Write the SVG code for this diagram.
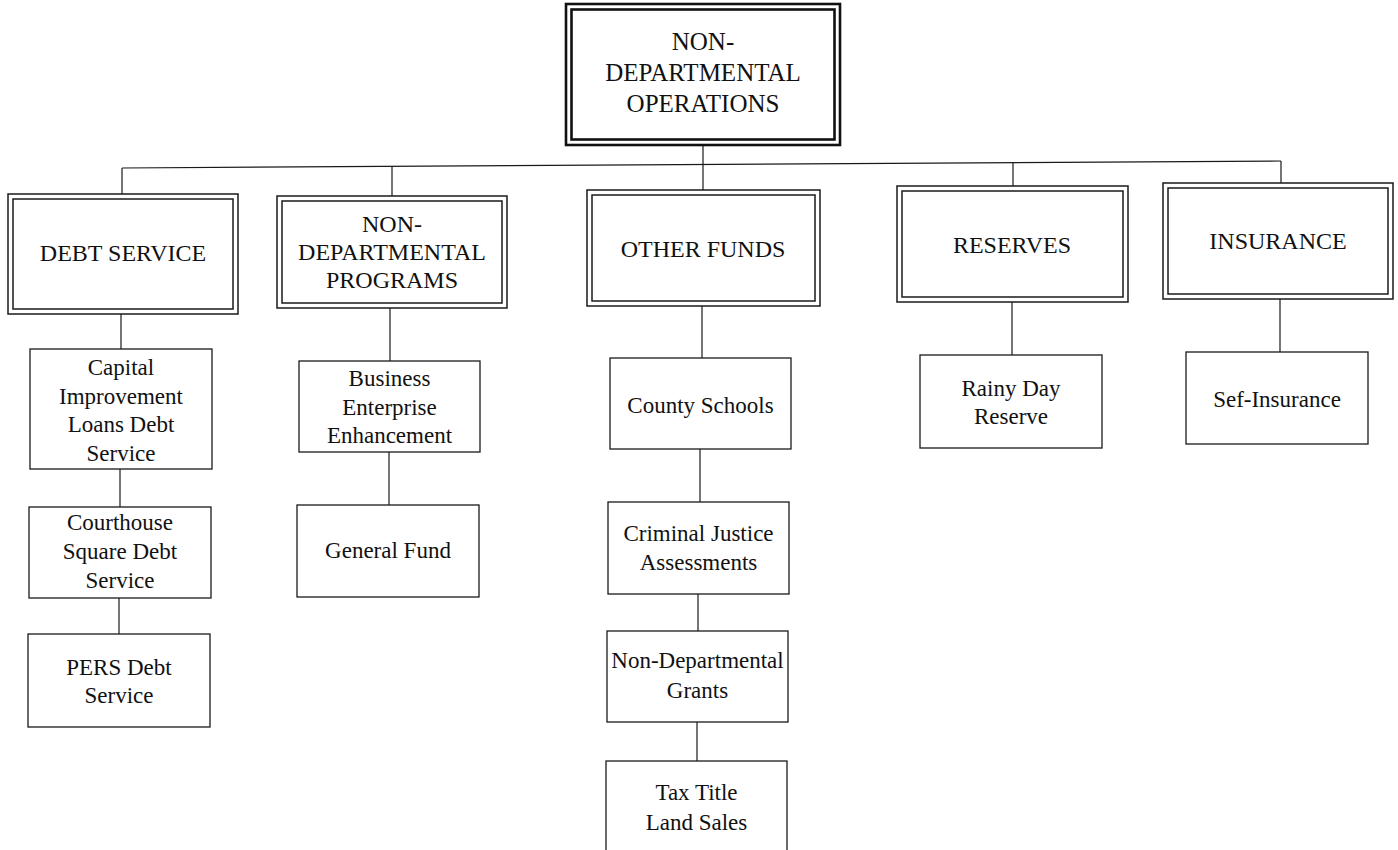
<svg xmlns="http://www.w3.org/2000/svg" width="1398" height="850" viewBox="0 0 1398 850">
  <style>
    .bg { fill: #ffffff; }
    .frame { fill: #ffffff; stroke: #1a1a1a; stroke-width: 1.5; }
    .frame-top { fill: #ffffff; stroke: #111111; stroke-width: 2.6; }
    .box { fill: #ffffff; stroke: #1a1a1a; stroke-width: 1.3; }
    .link { fill: none; stroke: #1a1a1a; stroke-width: 1.2; }
    text { font-family: "Liberation Serif", "Times New Roman", serif; fill: #111111; text-anchor: middle; }
    .h0 { font-size: 25px; }
    .h1 { font-size: 24px; }
    .t { font-size: 23px; }
  </style>

  <rect class="bg" x="0" y="0" width="1398" height="850"/>

  <!-- connectors -->
  <g id="connectors">
    <line class="link" x1="703" y1="145" x2="703" y2="164.5"/>
    <line class="link" x1="122" y1="168" x2="1281" y2="161"/>
    <line class="link" x1="122" y1="168" x2="122" y2="194"/>
    <line class="link" x1="392" y1="166.4" x2="392" y2="196"/>
    <line class="link" x1="703" y1="164.5" x2="703" y2="190"/>
    <line class="link" x1="1013" y1="162.6" x2="1013" y2="186"/>
    <line class="link" x1="1281" y1="161" x2="1281" y2="183"/>

    <line class="link" x1="121" y1="314" x2="121" y2="349"/>
    <line class="link" x1="120" y1="469" x2="120" y2="507"/>
    <line class="link" x1="119" y1="598" x2="119" y2="634"/>

    <line class="link" x1="390" y1="308" x2="390" y2="361"/>
    <line class="link" x1="389" y1="452" x2="389" y2="505"/>

    <line class="link" x1="702" y1="306" x2="702" y2="358"/>
    <line class="link" x1="700" y1="449" x2="700" y2="502"/>
    <line class="link" x1="698" y1="594" x2="698" y2="631"/>
    <line class="link" x1="697" y1="722" x2="697" y2="761"/>

    <line class="link" x1="1012" y1="302" x2="1012" y2="355"/>
    <line class="link" x1="1280" y1="299" x2="1280" y2="352"/>
  </g>

  <!-- root -->
  <g id="non-departmental-operations">
    <rect class="frame-top" x="566" y="4" width="274" height="141"/>
    <rect class="frame-top" x="571.5" y="9.5" width="263" height="130"/>
    <text class="h0" x="703" y="50">NON-</text>
    <text class="h0" x="703" y="81">DEPARTMENTAL</text>
    <text class="h0" x="703" y="112">OPERATIONS</text>
  </g>

  <!-- second level -->
  <g id="debt-service">
    <rect class="frame" x="8" y="194" width="230" height="120"/>
    <rect class="frame" x="13" y="199" width="220" height="110"/>
    <text class="h1" x="123" y="261">DEBT SERVICE</text>
  </g>

  <g id="non-departmental-programs">
    <rect class="frame" x="277" y="196" width="230" height="112"/>
    <rect class="frame" x="282" y="201" width="220" height="102"/>
    <text class="h1" x="392" y="232">NON-</text>
    <text class="h1" x="392" y="260">DEPARTMENTAL</text>
    <text class="h1" x="392" y="288">PROGRAMS</text>
  </g>

  <g id="other-funds">
    <rect class="frame" x="587" y="190" width="233" height="116"/>
    <rect class="frame" x="592" y="195" width="223" height="106"/>
    <text class="h1" x="703" y="257">OTHER FUNDS</text>
  </g>

  <g id="reserves">
    <rect class="frame" x="897" y="186" width="231" height="116"/>
    <rect class="frame" x="902" y="191" width="221" height="106"/>
    <text class="h1" x="1012" y="253">RESERVES</text>
  </g>

  <g id="insurance">
    <rect class="frame" x="1163" y="183" width="230" height="116"/>
    <rect class="frame" x="1168" y="188" width="220" height="106"/>
    <text class="h1" x="1278" y="249">INSURANCE</text>
  </g>

  <!-- debt service items -->
  <g id="capital-improvement-loans">
    <rect class="box" x="30" y="349" width="182" height="120"/>
    <text class="t" x="121" y="375">Capital</text>
    <text class="t" x="121" y="404">Improvement</text>
    <text class="t" x="121" y="432">Loans Debt</text>
    <text class="t" x="121" y="461">Service</text>
  </g>

  <g id="courthouse-square">
    <rect class="box" x="29" y="507" width="182" height="91"/>
    <text class="t" x="120" y="530">Courthouse</text>
    <text class="t" x="120" y="559">Square Debt</text>
    <text class="t" x="120" y="588">Service</text>
  </g>

  <g id="pers-debt-service">
    <rect class="box" x="28" y="634" width="182" height="93"/>
    <text class="t" x="119" y="675">PERS Debt</text>
    <text class="t" x="119" y="703">Service</text>
  </g>

  <!-- programs items -->
  <g id="business-enterprise">
    <rect class="box" x="299" y="361" width="181" height="91"/>
    <text class="t" x="389.5" y="386">Business</text>
    <text class="t" x="389.5" y="415">Enterprise</text>
    <text class="t" x="389.5" y="443">Enhancement</text>
  </g>

  <g id="general-fund">
    <rect class="box" x="297" y="505" width="182" height="92"/>
    <text class="t" x="388" y="558">General Fund</text>
  </g>

  <!-- other funds items -->
  <g id="county-schools">
    <rect class="box" x="610" y="358" width="181" height="91"/>
    <text class="t" x="700.5" y="413">County Schools</text>
  </g>

  <g id="criminal-justice">
    <rect class="box" x="608" y="502" width="181" height="92"/>
    <text class="t" x="698.5" y="541">Criminal Justice</text>
    <text class="t" x="698.5" y="570">Assessments</text>
  </g>

  <g id="non-departmental-grants">
    <rect class="box" x="607" y="631" width="181" height="91"/>
    <text class="t" x="697.5" y="668">Non-Departmental</text>
    <text class="t" x="697.5" y="698">Grants</text>
  </g>

  <g id="tax-title-land-sales">
    <rect class="box" x="606" y="761" width="181" height="96"/>
    <text class="t" x="696.5" y="800">Tax Title</text>
    <text class="t" x="696.5" y="830">Land Sales</text>
  </g>

  <!-- reserves and insurance items -->
  <g id="rainy-day-reserve">
    <rect class="box" x="920" y="355" width="182" height="93"/>
    <text class="t" x="1011" y="396">Rainy Day</text>
    <text class="t" x="1011" y="424">Reserve</text>
  </g>

  <g id="self-insurance">
    <rect class="box" x="1186" y="352" width="182" height="92"/>
    <text class="t" x="1277" y="407">Sef-Insurance</text>
  </g>
</svg>
